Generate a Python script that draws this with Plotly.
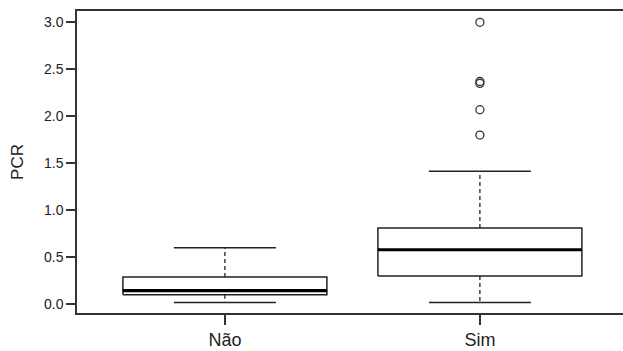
import plotly.graph_objects as go

# Data
categories = ["Não", "Sim"]
positions = [1, 2]
lower_whisker = [0.02, 0.02]
q1 = [0.10, 0.30]
median = [0.145, 0.58]
q3 = [0.29, 0.81]
upper_whisker = [0.60, 1.415]
outliers_sim = [3.00, 2.37, 2.35, 2.07, 1.80]
y_ticks = [0.0, 0.5, 1.0, 1.5, 2.0, 2.5, 3.0]
y_tick_labels = ["0.0", "0.5", "1.0", "1.5", "2.0", "2.5", "3.0"]

LINE = "#222222"
BOX_HALF = 0.4
CAP_HALF = 0.2

fig = go.Figure()

for i, p in enumerate(positions):
    # box
    fig.add_trace(go.Scatter(
        x=[p - BOX_HALF, p + BOX_HALF, p + BOX_HALF, p - BOX_HALF, p - BOX_HALF],
        y=[q1[i], q1[i], q3[i], q3[i], q1[i]],
        mode="lines", line=dict(color=LINE, width=1.5),
        hoverinfo="skip", showlegend=False))
    # median
    fig.add_trace(go.Scatter(
        x=[p - BOX_HALF, p + BOX_HALF], y=[median[i], median[i]],
        mode="lines", line=dict(color="black", width=3.2),
        hoverinfo="skip", showlegend=False))
    # whiskers (dashed)
    fig.add_trace(go.Scatter(
        x=[p, p, None, p, p],
        y=[q3[i], upper_whisker[i], None, q1[i], lower_whisker[i]],
        mode="lines", line=dict(color=LINE, width=1.3, dash="4px,3px"),
        hoverinfo="skip", showlegend=False))
    # caps
    fig.add_trace(go.Scatter(
        x=[p - CAP_HALF, p + CAP_HALF, None, p - CAP_HALF, p + CAP_HALF],
        y=[upper_whisker[i], upper_whisker[i], None, lower_whisker[i], lower_whisker[i]],
        mode="lines", line=dict(color=LINE, width=1.5),
        hoverinfo="skip", showlegend=False))

# outliers
fig.add_trace(go.Scatter(
    x=[positions[1]] * len(outliers_sim), y=outliers_sim,
    mode="markers",
    marker=dict(symbol="circle-open", size=8, color="#333333", line=dict(width=1.3)),
    showlegend=False))

plot_w = 623 - 77
x0 = 0.42
fig.update_layout(
    width=623, height=351,
    margin=dict(l=77, r=0, t=11, b=38, autoexpand=False),
    paper_bgcolor="white", plot_bgcolor="white",
    font=dict(family="Liberation Sans, Arial, sans-serif", color="#222222"),
    xaxis=dict(
        range=[x0, x0 + plot_w / 255.0],
        tickmode="array", tickvals=positions, ticktext=categories,
        showgrid=False, zeroline=False, automargin=False,
        showline=True, linecolor="#333333", linewidth=1.5, mirror=True,
        ticks="outside", ticklen=10, tickwidth=1.5, tickcolor="#333333",
        tickfont=dict(size=18),
    ),
    yaxis=dict(
        range=[-0.093, 3.12],
        tickmode="array", tickvals=y_ticks, ticktext=y_tick_labels,
        showgrid=False, zeroline=False, automargin=False,
        showline=True, linecolor="#333333", linewidth=1.5,
        ticks="outside", ticklen=9, tickwidth=1.5, tickcolor="#333333",
        tickfont=dict(size=14),
        title=dict(text="PCR", font=dict(size=17), standoff=16),
    ),
)

fig.write_html(
    "out.html",
    config={"displayModeBar": False},
    post_script="document.body.style.margin='0';document.body.style.overflow='hidden';",
)
